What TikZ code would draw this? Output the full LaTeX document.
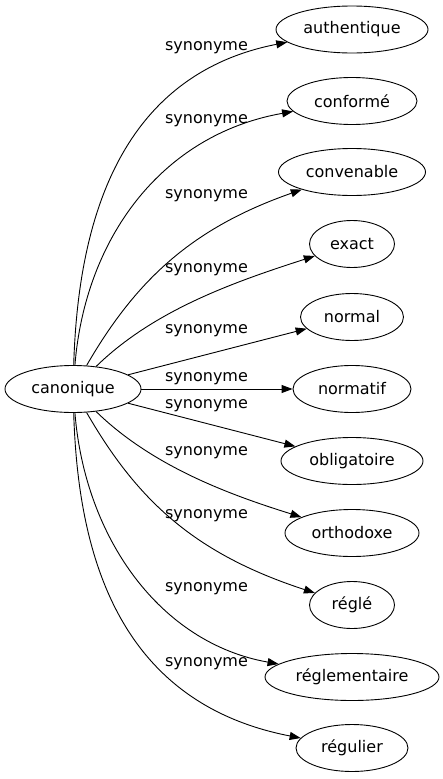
\documentclass[tikz,border=0pt]{standalone}
\usepackage{fontspec}
\setmainfont{DejaVu Sans}
\usetikzlibrary{shapes.geometric,arrows.meta}

\begin{document}
\begin{tikzpicture}[x=1pt, y=-1pt, font=\fontsize{16pt}{16pt}\selectfont,
  word/.style={draw, ellipse, line width=0.9pt, inner sep=0pt, minimum height=47pt, minimum width=#1},
  synlabel/.style={inner sep=0pt},
  synedge/.style={-{Triangle[length=11pt,width=8pt]}, line width=0.9pt}]%
\useasboundingbox (0,0) rectangle (443,779);%
\node[word=136pt] (canonique) at (73, 389) {canonique};%
\node[word=152pt] (authentique) at (352, 29.5) {authentique};%
\node[word=130pt] (conforme) at (352, 101) {conformé};%
\node[word=147pt] (convenable) at (352, 172) {convenable};%
\node[word=85pt] (exact) at (352, 244) {exact};%
\node[word=103pt] (normal) at (352, 317) {normal};%
\node[word=118pt] (normatif) at (352, 389) {normatif};%
\node[word=142pt] (obligatoire) at (352, 461) {obligatoire};%
\node[word=134pt] (orthodoxe) at (352, 533) {orthodoxe};%
\node[word=85pt] (regle) at (352, 605) {réglé};%
\node[word=174pt] (reglementaire) at (352, 677) {réglementaire};%
\node[word=112pt] (regulier) at (352, 748) {régulier};%
\draw[synedge] (canonique) .. controls (78, 220) and (120, 75) .. (authentique);%
\draw[synedge] (canonique) .. controls (85, 240) and (160, 135) .. (conforme);%
\draw[synedge] (canonique) .. controls (136, 280) and (192, 228) .. (convenable);%
\draw[synedge] (canonique) .. controls (154, 310) and (234, 282) .. (exact);%
\draw[synedge] (canonique) -- (normal);%
\draw[synedge] (canonique) -- (normatif);%
\draw[synedge] (canonique) -- (obligatoire);%
\draw[synedge] (canonique) .. controls (154, 468) and (234, 496) .. (orthodoxe);%
\draw[synedge] (canonique) .. controls (136, 498) and (192, 553) .. (regle);%
\draw[synedge] (canonique) .. controls (85, 538) and (160, 643) .. (reglementaire);%
\draw[synedge] (canonique) .. controls (78, 558) and (120, 703) .. (regulier);%
\node[synlabel] (syn1) at (206.5, 48) {synonyme};%
\node[synlabel] (syn2) at (206.5, 121) {synonyme};%
\node[synlabel] (syn3) at (206.5, 196) {synonyme};%
\node[synlabel] (syn4) at (206.5, 270) {synonyme};%
\node[synlabel] (syn5) at (206.5, 331) {synonyme};%
\node[synlabel] (syn6) at (206.5, 379) {synonyme};%
\node[synlabel] (syn7) at (206.5, 406) {synonyme};%
\node[synlabel] (syn8) at (206.5, 453) {synonyme};%
\node[synlabel] (syn9) at (206.5, 516) {synonyme};%
\node[synlabel] (syn10) at (206.5, 589) {synonyme};%
\node[synlabel] (syn11) at (206.5, 664) {synonyme};%
\end{tikzpicture}
\end{document}
